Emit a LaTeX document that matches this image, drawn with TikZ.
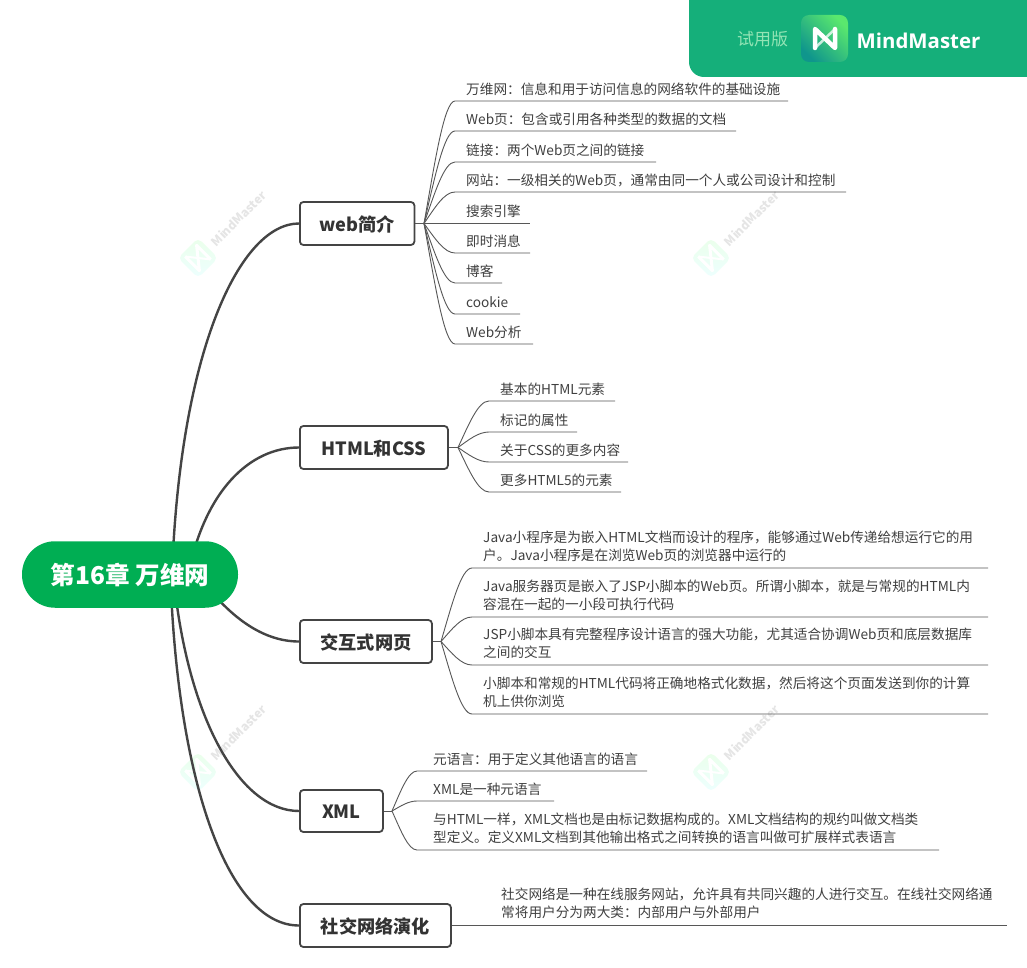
\documentclass[tikz,border=0pt]{standalone}
\usepackage{fontspec}
\setmainfont{Noto Sans CJK SC}
\usetikzlibrary{backgrounds}
\definecolor{rootgreen}{RGB}{0,174,83}
\definecolor{bandgreen}{RGB}{21,175,122}
\definecolor{inkc}{RGB}{64,64,64}
\definecolor{linec}{RGB}{68,68,68}
\definecolor{logoa}{RGB}{90,232,110}
\definecolor{logob}{RGB}{15,150,140}
\tikzset{
  rootbox/.style={fill=rootgreen,text=white,rounded corners=33,minimum width=216,minimum height=66.5,inner sep=0,font=\fontsize{24.6}{28}\selectfont\bfseries},
  mainbox/.style={draw=linec,line width=1.8,fill=white,rounded corners=3.5,minimum height=43,inner sep=0,text=black!80,font=\fontsize{18.2}{22}\selectfont\bfseries},
  leaftext/.style={inner sep=0,text=inkc,font=\fontsize{13.65}{18.3}\selectfont},
  mainconn/.style={draw=linec,line width=2.4},
  leafconn/.style={draw=linec!90,line width=.9},
  wmtext/.style={inner sep=0,text=black!10,font=\fontsize{12}{14}\selectfont\bfseries}
}
\newcommand\lowered[2]{\raisebox{-#1pt}[\height][\depth]{#2}}
\newcommand\lcurve[4]{%
  \pgfmathsetmacro\dxx{#3-\hx}\pgfmathsetmacro\dyy{#2-\hy}%
  \pgfmathsetmacro\cax{\hx+.35*\dxx}\pgfmathsetmacro\cay{\hy+.5*\dyy}%
  \pgfmathsetmacro\cbx{#3-.35*\dxx}%
  \coordinate (#1-s) at (#3,#2);\coordinate (#1-e) at (#4,#2);%
  \begin{pgfonlayer}{background}
  \draw[leafconn] (\hn) .. controls (\cax,\cay) and (\cbx,#2) .. (#1-s) -- (#1-e);
  \end{pgfonlayer}}
\newcommand\lf[4]{\lcurve{#1}{#2}{\xs}{#3}%
  \pgfmathsetmacro\ty{#2-6.5}\node[leaftext,anchor=base west] (#1) at (\tx,\ty) {#4};}
\newcommand\lftwo[4]{\lcurve{#1}{#2}{\xs}{#3}%
  \pgfmathsetmacro\ty{#2-22}\node[leaftext,anchor=west,align=left] (#1) at (\tx,\ty) {#4};}
\newcommand\wm[2]{%
  \begin{scope}[shift={(#1,#2)}]
    \shade[rounded corners=5,left color=green!8,right color=cyan!7,shading angle=0] (-20,0) -- (0,-20) -- (20,0) -- (0,20) -- cycle;
    \draw[white,line width=3,line join=round,rotate=45] (-8,-10) -- (-8,10) -- (8,-10) -- (8,10);
    \draw[white,line width=2,line join=round,rotate=45] (-8,-10) -- (8,10);
    \node[wmtext,rotate=45,anchor=west] (wm#1#2) at (15,-14) {MindMaster};
  \end{scope}}
\begin{document}
\begin{tikzpicture}[x=1pt,y=-1pt]
\useasboundingbox (0,0) rectangle (1027,968);
\begin{pgfonlayer}{background}
\fill[white] (0,0) rectangle (1027,968);
\wm{198}{258}\wm{711}{258}\wm{198}{772}\wm{711}{772}
\end{pgfonlayer}
% banner
\fill[bandgreen] (1027,0) -- (689,0) [rounded corners=15] -- (689,77) [sharp corners] -- (1027,77) -- cycle;
\node[inner sep=0,text=green!25!bandgreen!45!white,font=\fontsize{17}{20}\selectfont] (trial) at (762.5,39.5) {试用版};
\shade[rounded corners=8,left color=logoa,right color=logob,shading angle=-45] (801,15) rectangle (848,62);
\draw[white,line width=4.5,line join=round,line cap=round] (815,48) -- (815,29) -- (835,48) -- (835,29);
\draw[white,line width=2.5,opacity=.75] (815,48) -- (835,29);
\node[inner sep=0,text=white,font={\fontspec{Open Sans}\fontsize{20.4}{26}\selectfont\bfseries}] (brand) at (918.5,40.5) {MindMaster};
% main nodes
\node[rootbox] (root) at (130,574.5) {\lowered{.7}{第16章 万维网}};
\node[mainbox,minimum width=114.5,anchor=west] (n1) at (299,223.5) {\lowered{.8}{web简介}};
\node[mainbox,minimum width=148,anchor=west] (n2) at (299,447.5) {\lowered{1}{HTML和CSS}};
\node[mainbox,minimum width=132,anchor=west] (n3) at (299,641.5) {\lowered{1.3}{交互式网页}};
\node[mainbox,minimum width=83,minimum height=42,anchor=west] (n4) at (299,811) {\lowered{.8}{XML}};
\node[mainbox,minimum width=151,anchor=west] (n5) at (299,925.5) {\lowered{1.4}{社交网络演化}};
% main connectors
\coordinate (r1) at (172,575);\coordinate (r2) at (188,575);\coordinate (r3) at (210,590);\coordinate (r4) at (175,590);\coordinate (r5) at (171,590);
\begin{pgfonlayer}{background}
\draw[mainconn] (r1) .. controls (180,350) and (240,223.5) .. (n1.west);
\draw[mainconn] (r2) .. controls (205,490) and (250,447.5) .. (n2.west);
\draw[mainconn] (r3) .. controls (235,620) and (265,641.5) .. (n3.west);
\draw[mainconn] (r4) .. controls (190,720) and (240,811) .. (n4.west);
\draw[mainconn] (r5) .. controls (180,790) and (230,925.5) .. (n5.west);
\end{pgfonlayer}
% web
\coordinate (h1) at (424,223.5);
\draw[leafconn] (n1.east) -- (h1);
\def\hn{h1}\def\hx{424}\def\hy{223.5}\def\xs{455}\def\tx{466}
\lf{a1}{101}{788}{万维网：信息和用于访问信息的网络软件的基础设施}
\lf{a2}{131}{736}{Web页：包含或引用各种类型的数据的文档}
\lf{a3}{162}{656}{链接：两个Web页之间的链接}
\lf{a4}{192}{846}{网站：一级相关的Web页，通常由同一个人或公司设计和控制}
\lf{a5}{223.5}{530}{搜索引擎}
\lf{a6}{253}{530}{即时消息}
\lf{a7}{283}{502}{博客}
\lf{a8}{314}{520}{cookie}
\lf{a9}{344}{533}{Web分析}
% html
\coordinate (h2) at (458,447.5);
\draw[leafconn] (n2.east) -- (h2);
\def\hn{h2}\def\hx{458}\def\hy{447.5}\def\xs{489}\def\tx{500}
\lf{b1}{401}{615}{基本的HTML元素}
\lf{b2}{432}{577}{标记的属性}
\lf{b3}{462}{628}{关于CSS的更多内容}
\lf{b4}{492}{621}{更多HTML5的元素}
% interactive
\coordinate (h3) at (441,641.5);
\draw[leafconn] (n3.east) -- (h3);
\def\hn{h3}\def\hx{441}\def\hy{641.5}\def\xs{472}\def\tx{483}
\lftwo{c1}{568}{988}{Java小程序是为嵌入HTML文档而设计的程序，能够通过Web传递给想运行它的用\\户。Java小程序是在浏览Web页的浏览器中运行的}
\lftwo{c2}{617}{988}{Java服务器页是嵌入了JSP小脚本的Web页。所谓小脚本，就是与常规的HTML内\\容混在一起的一小段可执行代码}
\lftwo{c3}{665}{988}{JSP小脚本具有完整程序设计语言的强大功能，尤其适合协调Web页和底层数据库\\之间的交互}
\lftwo{c4}{714}{988}{小脚本和常规的HTML代码将正确地格式化数据，然后将这个页面发送到你的计算\\机上供你浏览}
% xml
\coordinate (h4) at (392,811);
\draw[leafconn] (n4.east) -- (h4);
\def\hn{h4}\def\hx{392}\def\hy{811}\def\xs{417}\def\tx{433}
\lf{d1}{771}{647}{元语言：用于定义其他语言的语言}
\lf{d2}{801}{554}{XML是一种元语言}
\lftwo{d3}{850}{939}{与HTML一样，XML文档也是由标记数据构成的。XML文档结构的规约叫做文档类\\型定义。定义XML文档到其他输出格式之间转换的语言叫做可扩展样式表语言}
% social
\coordinate (e1-e) at (1007,925.5);
\draw[leafconn] (n5.east) -- (e1-e);
\node[leaftext,anchor=west,align=left] (e1) at (501,903.5) {社交网络是一种在线服务网站，允许具有共同兴趣的人进行交互。在线社交网络通\\常将用户分为两大类：内部用户与外部用户};
\end{tikzpicture}
\end{document}
